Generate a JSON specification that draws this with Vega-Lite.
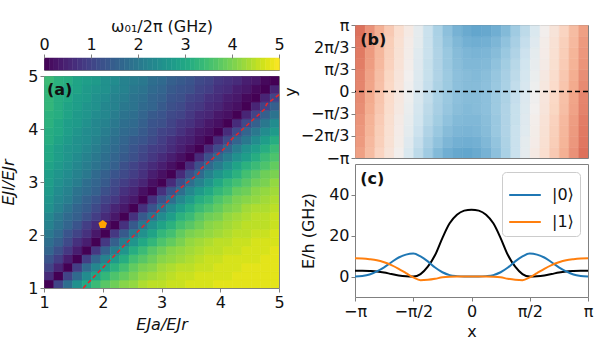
{
"$schema":"https://vega.github.io/schema/vega-lite/v6.json",
"background":"white",
"padding":{"left":0,"top":16,"right":2,"bottom":2},
"config":{
"font":"DejaVu Sans",
"view":{"stroke":"#808080","strokeWidth":1},
"axis":{"labelFontSize":16,"labelColor":"#111","titleFontSize":16,"titleFontWeight":"normal","titleColor":"#111","tickColor":"#808080","tickSize":4,"domain":false,"grid":false,"labelPadding":2,"labelFlush":false},
"legend":{"labelFontSize":16,"titleFontSize":16,"titleFontWeight":"normal","labelColor":"#111","titleColor":"#111"}
},
"datasets":{
"cbar":[{"c":0.05},{"c":0.15},{"c":0.25},{"c":0.35},{"c":0.45},{"c":0.55},{"c":0.65},{"c":0.75},{"c":0.85},{"c":0.95},{"c":1.05},{"c":1.15},{"c":1.25},{"c":1.35},{"c":1.45},{"c":1.55},{"c":1.65},{"c":1.75},{"c":1.85},{"c":1.95},{"c":2.05},{"c":2.15},{"c":2.25},{"c":2.35},{"c":2.45},{"c":2.55},{"c":2.65},{"c":2.75},{"c":2.85},{"c":2.95},{"c":3.05},{"c":3.15},{"c":3.25},{"c":3.35},{"c":3.45},{"c":3.55},{"c":3.65},{"c":3.75},{"c":3.85},{"c":3.95},{"c":4.05},{"c":4.15},{"c":4.25},{"c":4.35},{"c":4.45},{"c":4.55},{"c":4.65},{"c":4.75},{"c":4.85},{"c":4.95}],
"omega":[
{"a":1.08,"l":1.08,"w":0},{"a":1.24,"l":1.08,"w":1},{"a":1.4,"l":1.08,"w":1.8},{"a":1.56,"l":1.08,"w":2.5},{"a":1.72,"l":1.08,"w":3},{"a":1.88,"l":1.08,"w":3.4},{"a":2.04,"l":1.08,"w":3.7},{"a":2.2,"l":1.08,"w":3.9},{"a":2.36,"l":1.08,"w":4.1},{"a":2.52,"l":1.08,"w":4.2},{"a":2.68,"l":1.08,"w":4.4},{"a":2.84,"l":1.08,"w":4.5},{"a":3,"l":1.08,"w":4.5},{"a":3.16,"l":1.08,"w":4.6},{"a":3.32,"l":1.08,"w":4.6},{"a":3.48,"l":1.08,"w":4.7},{"a":3.64,"l":1.08,"w":4.7},{"a":3.8,"l":1.08,"w":4.7},{"a":3.96,"l":1.08,"w":4.8},{"a":4.12,"l":1.08,"w":4.8},{"a":4.28,"l":1.08,"w":4.8},{"a":4.44,"l":1.08,"w":4.8},{"a":4.6,"l":1.08,"w":4.8},{"a":4.76,"l":1.08,"w":4.8},{"a":4.92,"l":1.08,"w":4.8},
{"a":1.08,"l":1.24,"w":0.6},{"a":1.24,"l":1.24,"w":0},{"a":1.4,"l":1.24,"w":1},{"a":1.56,"l":1.24,"w":1.7},{"a":1.72,"l":1.24,"w":2.4},{"a":1.88,"l":1.24,"w":2.9},{"a":2.04,"l":1.24,"w":3.3},{"a":2.2,"l":1.24,"w":3.6},{"a":2.36,"l":1.24,"w":3.8},{"a":2.52,"l":1.24,"w":4},{"a":2.68,"l":1.24,"w":4.2},{"a":2.84,"l":1.24,"w":4.3},{"a":3,"l":1.24,"w":4.4},{"a":3.16,"l":1.24,"w":4.5},{"a":3.32,"l":1.24,"w":4.6},{"a":3.48,"l":1.24,"w":4.6},{"a":3.64,"l":1.24,"w":4.7},{"a":3.8,"l":1.24,"w":4.7},{"a":3.96,"l":1.24,"w":4.7},{"a":4.12,"l":1.24,"w":4.7},{"a":4.28,"l":1.24,"w":4.8},{"a":4.44,"l":1.24,"w":4.8},{"a":4.6,"l":1.24,"w":4.8},{"a":4.76,"l":1.24,"w":4.8},{"a":4.92,"l":1.24,"w":4.8},
{"a":1.08,"l":1.4,"w":1},{"a":1.24,"l":1.4,"w":0.5},{"a":1.4,"l":1.4,"w":0},{"a":1.56,"l":1.4,"w":0.9},{"a":1.72,"l":1.4,"w":1.7},{"a":1.88,"l":1.4,"w":2.3},{"a":2.04,"l":1.4,"w":2.8},{"a":2.2,"l":1.4,"w":3.2},{"a":2.36,"l":1.4,"w":3.5},{"a":2.52,"l":1.4,"w":3.8},{"a":2.68,"l":1.4,"w":4},{"a":2.84,"l":1.4,"w":4.1},{"a":3,"l":1.4,"w":4.3},{"a":3.16,"l":1.4,"w":4.4},{"a":3.32,"l":1.4,"w":4.5},{"a":3.48,"l":1.4,"w":4.5},{"a":3.64,"l":1.4,"w":4.6},{"a":3.8,"l":1.4,"w":4.6},{"a":3.96,"l":1.4,"w":4.7},{"a":4.12,"l":1.4,"w":4.7},{"a":4.28,"l":1.4,"w":4.7},{"a":4.44,"l":1.4,"w":4.8},{"a":4.6,"l":1.4,"w":4.8},{"a":4.76,"l":1.4,"w":4.8},{"a":4.92,"l":1.4,"w":4.8},
{"a":1.08,"l":1.56,"w":1.3},{"a":1.24,"l":1.56,"w":0.9},{"a":1.4,"l":1.56,"w":0.4},{"a":1.56,"l":1.56,"w":0},{"a":1.72,"l":1.56,"w":0.9},{"a":1.88,"l":1.56,"w":1.6},{"a":2.04,"l":1.56,"w":2.2},{"a":2.2,"l":1.56,"w":2.7},{"a":2.36,"l":1.56,"w":3.1},{"a":2.52,"l":1.56,"w":3.5},{"a":2.68,"l":1.56,"w":3.7},{"a":2.84,"l":1.56,"w":3.9},{"a":3,"l":1.56,"w":4.1},{"a":3.16,"l":1.56,"w":4.2},{"a":3.32,"l":1.56,"w":4.3},{"a":3.48,"l":1.56,"w":4.4},{"a":3.64,"l":1.56,"w":4.5},{"a":3.8,"l":1.56,"w":4.6},{"a":3.96,"l":1.56,"w":4.6},{"a":4.12,"l":1.56,"w":4.7},{"a":4.28,"l":1.56,"w":4.7},{"a":4.44,"l":1.56,"w":4.7},{"a":4.6,"l":1.56,"w":4.7},{"a":4.76,"l":1.56,"w":4.8},{"a":4.92,"l":1.56,"w":4.8},
{"a":1.08,"l":1.72,"w":1.6},{"a":1.24,"l":1.72,"w":1.2},{"a":1.4,"l":1.72,"w":0.8},{"a":1.56,"l":1.72,"w":0.4},{"a":1.72,"l":1.72,"w":0},{"a":1.88,"l":1.72,"w":0.8},{"a":2.04,"l":1.72,"w":1.5},{"a":2.2,"l":1.72,"w":2.1},{"a":2.36,"l":1.72,"w":2.6},{"a":2.52,"l":1.72,"w":3.1},{"a":2.68,"l":1.72,"w":3.4},{"a":2.84,"l":1.72,"w":3.7},{"a":3,"l":1.72,"w":3.9},{"a":3.16,"l":1.72,"w":4.1},{"a":3.32,"l":1.72,"w":4.2},{"a":3.48,"l":1.72,"w":4.3},{"a":3.64,"l":1.72,"w":4.4},{"a":3.8,"l":1.72,"w":4.5},{"a":3.96,"l":1.72,"w":4.5},{"a":4.12,"l":1.72,"w":4.6},{"a":4.28,"l":1.72,"w":4.6},{"a":4.44,"l":1.72,"w":4.7},{"a":4.6,"l":1.72,"w":4.7},{"a":4.76,"l":1.72,"w":4.7},{"a":4.92,"l":1.72,"w":4.8},
{"a":1.08,"l":1.88,"w":1.8},{"a":1.24,"l":1.88,"w":1.5},{"a":1.4,"l":1.88,"w":1.1},{"a":1.56,"l":1.88,"w":0.7},{"a":1.72,"l":1.88,"w":0.4},{"a":1.88,"l":1.88,"w":0},{"a":2.04,"l":1.88,"w":0.8},{"a":2.2,"l":1.88,"w":1.5},{"a":2.36,"l":1.88,"w":2.1},{"a":2.52,"l":1.88,"w":2.6},{"a":2.68,"l":1.88,"w":3},{"a":2.84,"l":1.88,"w":3.3},{"a":3,"l":1.88,"w":3.6},{"a":3.16,"l":1.88,"w":3.8},{"a":3.32,"l":1.88,"w":4},{"a":3.48,"l":1.88,"w":4.2},{"a":3.64,"l":1.88,"w":4.3},{"a":3.8,"l":1.88,"w":4.4},{"a":3.96,"l":1.88,"w":4.5},{"a":4.12,"l":1.88,"w":4.5},{"a":4.28,"l":1.88,"w":4.6},{"a":4.44,"l":1.88,"w":4.6},{"a":4.6,"l":1.88,"w":4.7},{"a":4.76,"l":1.88,"w":4.7},{"a":4.92,"l":1.88,"w":4.7},
{"a":1.08,"l":2.04,"w":2},{"a":1.24,"l":2.04,"w":1.7},{"a":1.4,"l":2.04,"w":1.3},{"a":1.56,"l":2.04,"w":1},{"a":1.72,"l":2.04,"w":0.7},{"a":1.88,"l":2.04,"w":0.3},{"a":2.04,"l":2.04,"w":0},{"a":2.2,"l":2.04,"w":0.8},{"a":2.36,"l":2.04,"w":1.4},{"a":2.52,"l":2.04,"w":2},{"a":2.68,"l":2.04,"w":2.5},{"a":2.84,"l":2.04,"w":2.9},{"a":3,"l":2.04,"w":3.3},{"a":3.16,"l":2.04,"w":3.5},{"a":3.32,"l":2.04,"w":3.8},{"a":3.48,"l":2.04,"w":4},{"a":3.64,"l":2.04,"w":4.1},{"a":3.8,"l":2.04,"w":4.2},{"a":3.96,"l":2.04,"w":4.3},{"a":4.12,"l":2.04,"w":4.4},{"a":4.28,"l":2.04,"w":4.5},{"a":4.44,"l":2.04,"w":4.5},{"a":4.6,"l":2.04,"w":4.6},{"a":4.76,"l":2.04,"w":4.6},{"a":4.92,"l":2.04,"w":4.7},
{"a":1.08,"l":2.2,"w":2.2},{"a":1.24,"l":2.2,"w":1.9},{"a":1.4,"l":2.2,"w":1.6},{"a":1.56,"l":2.2,"w":1.3},{"a":1.72,"l":2.2,"w":0.9},{"a":1.88,"l":2.2,"w":0.6},{"a":2.04,"l":2.2,"w":0.3},{"a":2.2,"l":2.2,"w":0},{"a":2.36,"l":2.2,"w":0.7},{"a":2.52,"l":2.2,"w":1.4},{"a":2.68,"l":2.2,"w":2},{"a":2.84,"l":2.2,"w":2.5},{"a":3,"l":2.2,"w":2.9},{"a":3.16,"l":2.2,"w":3.2},{"a":3.32,"l":2.2,"w":3.5},{"a":3.48,"l":2.2,"w":3.7},{"a":3.64,"l":2.2,"w":3.9},{"a":3.8,"l":2.2,"w":4.1},{"a":3.96,"l":2.2,"w":4.2},{"a":4.12,"l":2.2,"w":4.3},{"a":4.28,"l":2.2,"w":4.4},{"a":4.44,"l":2.2,"w":4.5},{"a":4.6,"l":2.2,"w":4.5},{"a":4.76,"l":2.2,"w":4.5},{"a":4.92,"l":2.2,"w":4.6},
{"a":1.08,"l":2.36,"w":2.3},{"a":1.24,"l":2.36,"w":2},{"a":1.4,"l":2.36,"w":1.7},{"a":1.56,"l":2.36,"w":1.5},{"a":1.72,"l":2.36,"w":1.2},{"a":1.88,"l":2.36,"w":0.9},{"a":2.04,"l":2.36,"w":0.6},{"a":2.2,"l":2.36,"w":0.3},{"a":2.36,"l":2.36,"w":0},{"a":2.52,"l":2.36,"w":0.7},{"a":2.68,"l":2.36,"w":1.4},{"a":2.84,"l":2.36,"w":1.9},{"a":3,"l":2.36,"w":2.4},{"a":3.16,"l":2.36,"w":2.8},{"a":3.32,"l":2.36,"w":3.2},{"a":3.48,"l":2.36,"w":3.4},{"a":3.64,"l":2.36,"w":3.7},{"a":3.8,"l":2.36,"w":3.9},{"a":3.96,"l":2.36,"w":4},{"a":4.12,"l":2.36,"w":4.2},{"a":4.28,"l":2.36,"w":4.3},{"a":4.44,"l":2.36,"w":4.4},{"a":4.6,"l":2.36,"w":4.5},{"a":4.76,"l":2.36,"w":4.5},{"a":4.92,"l":2.36,"w":4.6},
{"a":1.08,"l":2.52,"w":2.5},{"a":1.24,"l":2.52,"w":2.2},{"a":1.4,"l":2.52,"w":1.9},{"a":1.56,"l":2.52,"w":1.6},{"a":1.72,"l":2.52,"w":1.4},{"a":1.88,"l":2.52,"w":1.1},{"a":2.04,"l":2.52,"w":0.8},{"a":2.2,"l":2.52,"w":0.5},{"a":2.36,"l":2.52,"w":0.3},{"a":2.52,"l":2.52,"w":0},{"a":2.68,"l":2.52,"w":0.7},{"a":2.84,"l":2.52,"w":1.3},{"a":3,"l":2.52,"w":1.9},{"a":3.16,"l":2.52,"w":2.4},{"a":3.32,"l":2.52,"w":2.8},{"a":3.48,"l":2.52,"w":3.1},{"a":3.64,"l":2.52,"w":3.4},{"a":3.8,"l":2.52,"w":3.6},{"a":3.96,"l":2.52,"w":3.8},{"a":4.12,"l":2.52,"w":4},{"a":4.28,"l":2.52,"w":4.1},{"a":4.44,"l":2.52,"w":4.3},{"a":4.6,"l":2.52,"w":4.4},{"a":4.76,"l":2.52,"w":4.4},{"a":4.92,"l":2.52,"w":4.5},
{"a":1.08,"l":2.68,"w":2.6},{"a":1.24,"l":2.68,"w":2.3},{"a":1.4,"l":2.68,"w":2.1},{"a":1.56,"l":2.68,"w":1.8},{"a":1.72,"l":2.68,"w":1.5},{"a":1.88,"l":2.68,"w":1.3},{"a":2.04,"l":2.68,"w":1},{"a":2.2,"l":2.68,"w":0.8},{"a":2.36,"l":2.68,"w":0.5},{"a":2.52,"l":2.68,"w":0.3},{"a":2.68,"l":2.68,"w":0},{"a":2.84,"l":2.68,"w":0.7},{"a":3,"l":2.68,"w":1.3},{"a":3.16,"l":2.68,"w":1.8},{"a":3.32,"l":2.68,"w":2.3},{"a":3.48,"l":2.68,"w":2.7},{"a":3.64,"l":2.68,"w":3.1},{"a":3.8,"l":2.68,"w":3.3},{"a":3.96,"l":2.68,"w":3.6},{"a":4.12,"l":2.68,"w":3.8},{"a":4.28,"l":2.68,"w":4},{"a":4.44,"l":2.68,"w":4.1},{"a":4.6,"l":2.68,"w":4.2},{"a":4.76,"l":2.68,"w":4.3},{"a":4.92,"l":2.68,"w":4.4},
{"a":1.08,"l":2.84,"w":2.7},{"a":1.24,"l":2.84,"w":2.4},{"a":1.4,"l":2.84,"w":2.2},{"a":1.56,"l":2.84,"w":1.9},{"a":1.72,"l":2.84,"w":1.7},{"a":1.88,"l":2.84,"w":1.5},{"a":2.04,"l":2.84,"w":1.2},{"a":2.2,"l":2.84,"w":1},{"a":2.36,"l":2.84,"w":0.7},{"a":2.52,"l":2.84,"w":0.5},{"a":2.68,"l":2.84,"w":0.2},{"a":2.84,"l":2.84,"w":0},{"a":3,"l":2.84,"w":0.7},{"a":3.16,"l":2.84,"w":1.3},{"a":3.32,"l":2.84,"w":1.8},{"a":3.48,"l":2.84,"w":2.3},{"a":3.64,"l":2.84,"w":2.7},{"a":3.8,"l":2.84,"w":3},{"a":3.96,"l":2.84,"w":3.3},{"a":4.12,"l":2.84,"w":3.5},{"a":4.28,"l":2.84,"w":3.8},{"a":4.44,"l":2.84,"w":3.9},{"a":4.6,"l":2.84,"w":4.1},{"a":4.76,"l":2.84,"w":4.2},{"a":4.92,"l":2.84,"w":4.3},
{"a":1.08,"l":3,"w":2.8},{"a":1.24,"l":3,"w":2.5},{"a":1.4,"l":3,"w":2.3},{"a":1.56,"l":3,"w":2.1},{"a":1.72,"l":3,"w":1.8},{"a":1.88,"l":3,"w":1.6},{"a":2.04,"l":3,"w":1.4},{"a":2.2,"l":3,"w":1.1},{"a":2.36,"l":3,"w":0.9},{"a":2.52,"l":3,"w":0.7},{"a":2.68,"l":3,"w":0.5},{"a":2.84,"l":3,"w":0.2},{"a":3,"l":3,"w":0},{"a":3.16,"l":3,"w":0.6},{"a":3.32,"l":3,"w":1.2},{"a":3.48,"l":3,"w":1.8},{"a":3.64,"l":3,"w":2.2},{"a":3.8,"l":3,"w":2.6},{"a":3.96,"l":3,"w":3},{"a":4.12,"l":3,"w":3.3},{"a":4.28,"l":3,"w":3.5},{"a":4.44,"l":3,"w":3.7},{"a":4.6,"l":3,"w":3.9},{"a":4.76,"l":3,"w":4},{"a":4.92,"l":3,"w":4.2},
{"a":1.08,"l":3.16,"w":2.8},{"a":1.24,"l":3.16,"w":2.6},{"a":1.4,"l":3.16,"w":2.4},{"a":1.56,"l":3.16,"w":2.2},{"a":1.72,"l":3.16,"w":2},{"a":1.88,"l":3.16,"w":1.7},{"a":2.04,"l":3.16,"w":1.5},{"a":2.2,"l":3.16,"w":1.3},{"a":2.36,"l":3.16,"w":1.1},{"a":2.52,"l":3.16,"w":0.9},{"a":2.68,"l":3.16,"w":0.7},{"a":2.84,"l":3.16,"w":0.4},{"a":3,"l":3.16,"w":0.2},{"a":3.16,"l":3.16,"w":0},{"a":3.32,"l":3.16,"w":0.6},{"a":3.48,"l":3.16,"w":1.2},{"a":3.64,"l":3.16,"w":1.7},{"a":3.8,"l":3.16,"w":2.2},{"a":3.96,"l":3.16,"w":2.6},{"a":4.12,"l":3.16,"w":2.9},{"a":4.28,"l":3.16,"w":3.2},{"a":4.44,"l":3.16,"w":3.5},{"a":4.6,"l":3.16,"w":3.7},{"a":4.76,"l":3.16,"w":3.9},{"a":4.92,"l":3.16,"w":4},
{"a":1.08,"l":3.32,"w":2.9},{"a":1.24,"l":3.32,"w":2.7},{"a":1.4,"l":3.32,"w":2.5},{"a":1.56,"l":3.32,"w":2.3},{"a":1.72,"l":3.32,"w":2.1},{"a":1.88,"l":3.32,"w":1.9},{"a":2.04,"l":3.32,"w":1.7},{"a":2.2,"l":3.32,"w":1.5},{"a":2.36,"l":3.32,"w":1.2},{"a":2.52,"l":3.32,"w":1},{"a":2.68,"l":3.32,"w":0.8},{"a":2.84,"l":3.32,"w":0.6},{"a":3,"l":3.32,"w":0.4},{"a":3.16,"l":3.32,"w":0.2},{"a":3.32,"l":3.32,"w":0},{"a":3.48,"l":3.32,"w":0.6},{"a":3.64,"l":3.32,"w":1.2},{"a":3.8,"l":3.32,"w":1.7},{"a":3.96,"l":3.32,"w":2.1},{"a":4.12,"l":3.32,"w":2.5},{"a":4.28,"l":3.32,"w":2.9},{"a":4.44,"l":3.32,"w":3.2},{"a":4.6,"l":3.32,"w":3.4},{"a":4.76,"l":3.32,"w":3.6},{"a":4.92,"l":3.32,"w":3.8},
{"a":1.08,"l":3.48,"w":3},{"a":1.24,"l":3.48,"w":2.8},{"a":1.4,"l":3.48,"w":2.6},{"a":1.56,"l":3.48,"w":2.4},{"a":1.72,"l":3.48,"w":2.2},{"a":1.88,"l":3.48,"w":2},{"a":2.04,"l":3.48,"w":1.8},{"a":2.2,"l":3.48,"w":1.6},{"a":2.36,"l":3.48,"w":1.4},{"a":2.52,"l":3.48,"w":1.2},{"a":2.68,"l":3.48,"w":1},{"a":2.84,"l":3.48,"w":0.8},{"a":3,"l":3.48,"w":0.6},{"a":3.16,"l":3.48,"w":0.4},{"a":3.32,"l":3.48,"w":0.2},{"a":3.48,"l":3.48,"w":0},{"a":3.64,"l":3.48,"w":0.6},{"a":3.8,"l":3.48,"w":1.2},{"a":3.96,"l":3.48,"w":1.7},{"a":4.12,"l":3.48,"w":2.1},{"a":4.28,"l":3.48,"w":2.5},{"a":4.44,"l":3.48,"w":2.8},{"a":4.6,"l":3.48,"w":3.1},{"a":4.76,"l":3.48,"w":3.4},{"a":4.92,"l":3.48,"w":3.6},
{"a":1.08,"l":3.64,"w":3},{"a":1.24,"l":3.64,"w":2.8},{"a":1.4,"l":3.64,"w":2.6},{"a":1.56,"l":3.64,"w":2.5},{"a":1.72,"l":3.64,"w":2.3},{"a":1.88,"l":3.64,"w":2.1},{"a":2.04,"l":3.64,"w":1.9},{"a":2.2,"l":3.64,"w":1.7},{"a":2.36,"l":3.64,"w":1.5},{"a":2.52,"l":3.64,"w":1.3},{"a":2.68,"l":3.64,"w":1.1},{"a":2.84,"l":3.64,"w":0.9},{"a":3,"l":3.64,"w":0.8},{"a":3.16,"l":3.64,"w":0.6},{"a":3.32,"l":3.64,"w":0.4},{"a":3.48,"l":3.64,"w":0.2},{"a":3.64,"l":3.64,"w":0},{"a":3.8,"l":3.64,"w":0.6},{"a":3.96,"l":3.64,"w":1.1},{"a":4.12,"l":3.64,"w":1.6},{"a":4.28,"l":3.64,"w":2.1},{"a":4.44,"l":3.64,"w":2.5},{"a":4.6,"l":3.64,"w":2.8},{"a":4.76,"l":3.64,"w":3.1},{"a":4.92,"l":3.64,"w":3.4},
{"a":1.08,"l":3.8,"w":3.1},{"a":1.24,"l":3.8,"w":2.9},{"a":1.4,"l":3.8,"w":2.7},{"a":1.56,"l":3.8,"w":2.5},{"a":1.72,"l":3.8,"w":2.4},{"a":1.88,"l":3.8,"w":2.2},{"a":2.04,"l":3.8,"w":2},{"a":2.2,"l":3.8,"w":1.8},{"a":2.36,"l":3.8,"w":1.6},{"a":2.52,"l":3.8,"w":1.4},{"a":2.68,"l":3.8,"w":1.3},{"a":2.84,"l":3.8,"w":1.1},{"a":3,"l":3.8,"w":0.9},{"a":3.16,"l":3.8,"w":0.7},{"a":3.32,"l":3.8,"w":0.5},{"a":3.48,"l":3.8,"w":0.4},{"a":3.64,"l":3.8,"w":0.2},{"a":3.8,"l":3.8,"w":0},{"a":3.96,"l":3.8,"w":0.6},{"a":4.12,"l":3.8,"w":1.1},{"a":4.28,"l":3.8,"w":1.6},{"a":4.44,"l":3.8,"w":2},{"a":4.6,"l":3.8,"w":2.4},{"a":4.76,"l":3.8,"w":2.8},{"a":4.92,"l":3.8,"w":3.1},
{"a":1.08,"l":3.96,"w":3.1},{"a":1.24,"l":3.96,"w":3},{"a":1.4,"l":3.96,"w":2.8},{"a":1.56,"l":3.96,"w":2.6},{"a":1.72,"l":3.96,"w":2.4},{"a":1.88,"l":3.96,"w":2.3},{"a":2.04,"l":3.96,"w":2.1},{"a":2.2,"l":3.96,"w":1.9},{"a":2.36,"l":3.96,"w":1.7},{"a":2.52,"l":3.96,"w":1.6},{"a":2.68,"l":3.96,"w":1.4},{"a":2.84,"l":3.96,"w":1.2},{"a":3,"l":3.96,"w":1},{"a":3.16,"l":3.96,"w":0.9},{"a":3.32,"l":3.96,"w":0.7},{"a":3.48,"l":3.96,"w":0.5},{"a":3.64,"l":3.96,"w":0.3},{"a":3.8,"l":3.96,"w":0.2},{"a":3.96,"l":3.96,"w":0},{"a":4.12,"l":3.96,"w":0.6},{"a":4.28,"l":3.96,"w":1.1},{"a":4.44,"l":3.96,"w":1.6},{"a":4.6,"l":3.96,"w":2},{"a":4.76,"l":3.96,"w":2.4},{"a":4.92,"l":3.96,"w":2.7},
{"a":1.08,"l":4.12,"w":3.2},{"a":1.24,"l":4.12,"w":3},{"a":1.4,"l":4.12,"w":2.8},{"a":1.56,"l":4.12,"w":2.7},{"a":1.72,"l":4.12,"w":2.5},{"a":1.88,"l":4.12,"w":2.3},{"a":2.04,"l":4.12,"w":2.2},{"a":2.2,"l":4.12,"w":2},{"a":2.36,"l":4.12,"w":1.8},{"a":2.52,"l":4.12,"w":1.7},{"a":2.68,"l":4.12,"w":1.5},{"a":2.84,"l":4.12,"w":1.3},{"a":3,"l":4.12,"w":1.2},{"a":3.16,"l":4.12,"w":1},{"a":3.32,"l":4.12,"w":0.8},{"a":3.48,"l":4.12,"w":0.7},{"a":3.64,"l":4.12,"w":0.5},{"a":3.8,"l":4.12,"w":0.3},{"a":3.96,"l":4.12,"w":0.2},{"a":4.12,"l":4.12,"w":0},{"a":4.28,"l":4.12,"w":0.6},{"a":4.44,"l":4.12,"w":1.1},{"a":4.6,"l":4.12,"w":1.5},{"a":4.76,"l":4.12,"w":2},{"a":4.92,"l":4.12,"w":2.4},
{"a":1.08,"l":4.28,"w":3.2},{"a":1.24,"l":4.28,"w":3.1},{"a":1.4,"l":4.28,"w":2.9},{"a":1.56,"l":4.28,"w":2.7},{"a":1.72,"l":4.28,"w":2.6},{"a":1.88,"l":4.28,"w":2.4},{"a":2.04,"l":4.28,"w":2.3},{"a":2.2,"l":4.28,"w":2.1},{"a":2.36,"l":4.28,"w":1.9},{"a":2.52,"l":4.28,"w":1.8},{"a":2.68,"l":4.28,"w":1.6},{"a":2.84,"l":4.28,"w":1.4},{"a":3,"l":4.28,"w":1.3},{"a":3.16,"l":4.28,"w":1.1},{"a":3.32,"l":4.28,"w":1},{"a":3.48,"l":4.28,"w":0.8},{"a":3.64,"l":4.28,"w":0.6},{"a":3.8,"l":4.28,"w":0.5},{"a":3.96,"l":4.28,"w":0.3},{"a":4.12,"l":4.28,"w":0.2},{"a":4.28,"l":4.28,"w":0},{"a":4.44,"l":4.28,"w":0.5},{"a":4.6,"l":4.28,"w":1},{"a":4.76,"l":4.28,"w":1.5},{"a":4.92,"l":4.28,"w":1.9},
{"a":1.08,"l":4.44,"w":3.3},{"a":1.24,"l":4.44,"w":3.1},{"a":1.4,"l":4.44,"w":2.9},{"a":1.56,"l":4.44,"w":2.8},{"a":1.72,"l":4.44,"w":2.6},{"a":1.88,"l":4.44,"w":2.5},{"a":2.04,"l":4.44,"w":2.3},{"a":2.2,"l":4.44,"w":2.2},{"a":2.36,"l":4.44,"w":2},{"a":2.52,"l":4.44,"w":1.9},{"a":2.68,"l":4.44,"w":1.7},{"a":2.84,"l":4.44,"w":1.6},{"a":3,"l":4.44,"w":1.4},{"a":3.16,"l":4.44,"w":1.2},{"a":3.32,"l":4.44,"w":1.1},{"a":3.48,"l":4.44,"w":0.9},{"a":3.64,"l":4.44,"w":0.8},{"a":3.8,"l":4.44,"w":0.6},{"a":3.96,"l":4.44,"w":0.5},{"a":4.12,"l":4.44,"w":0.3},{"a":4.28,"l":4.44,"w":0.2},{"a":4.44,"l":4.44,"w":0},{"a":4.6,"l":4.44,"w":0.5},{"a":4.76,"l":4.44,"w":1},{"a":4.92,"l":4.44,"w":1.5},
{"a":1.08,"l":4.6,"w":3.3},{"a":1.24,"l":4.6,"w":3.1},{"a":1.4,"l":4.6,"w":3},{"a":1.56,"l":4.6,"w":2.8},{"a":1.72,"l":4.6,"w":2.7},{"a":1.88,"l":4.6,"w":2.5},{"a":2.04,"l":4.6,"w":2.4},{"a":2.2,"l":4.6,"w":2.2},{"a":2.36,"l":4.6,"w":2.1},{"a":2.52,"l":4.6,"w":1.9},{"a":2.68,"l":4.6,"w":1.8},{"a":2.84,"l":4.6,"w":1.6},{"a":3,"l":4.6,"w":1.5},{"a":3.16,"l":4.6,"w":1.3},{"a":3.32,"l":4.6,"w":1.2},{"a":3.48,"l":4.6,"w":1},{"a":3.64,"l":4.6,"w":0.9},{"a":3.8,"l":4.6,"w":0.7},{"a":3.96,"l":4.6,"w":0.6},{"a":4.12,"l":4.6,"w":0.4},{"a":4.28,"l":4.6,"w":0.3},{"a":4.44,"l":4.6,"w":0.1},{"a":4.6,"l":4.6,"w":0},{"a":4.76,"l":4.6,"w":0.5},{"a":4.92,"l":4.6,"w":1},
{"a":1.08,"l":4.76,"w":3.3},{"a":1.24,"l":4.76,"w":3.2},{"a":1.4,"l":4.76,"w":3},{"a":1.56,"l":4.76,"w":2.9},{"a":1.72,"l":4.76,"w":2.7},{"a":1.88,"l":4.76,"w":2.6},{"a":2.04,"l":4.76,"w":2.5},{"a":2.2,"l":4.76,"w":2.3},{"a":2.36,"l":4.76,"w":2.2},{"a":2.52,"l":4.76,"w":2},{"a":2.68,"l":4.76,"w":1.9},{"a":2.84,"l":4.76,"w":1.7},{"a":3,"l":4.76,"w":1.6},{"a":3.16,"l":4.76,"w":1.4},{"a":3.32,"l":4.76,"w":1.3},{"a":3.48,"l":4.76,"w":1.2},{"a":3.64,"l":4.76,"w":1},{"a":3.8,"l":4.76,"w":0.9},{"a":3.96,"l":4.76,"w":0.7},{"a":4.12,"l":4.76,"w":0.6},{"a":4.28,"l":4.76,"w":0.4},{"a":4.44,"l":4.76,"w":0.3},{"a":4.6,"l":4.76,"w":0.1},{"a":4.76,"l":4.76,"w":0},{"a":4.92,"l":4.76,"w":0.5},
{"a":1.08,"l":4.92,"w":3.4},{"a":1.24,"l":4.92,"w":3.2},{"a":1.4,"l":4.92,"w":3.1},{"a":1.56,"l":4.92,"w":2.9},{"a":1.72,"l":4.92,"w":2.8},{"a":1.88,"l":4.92,"w":2.7},{"a":2.04,"l":4.92,"w":2.5},{"a":2.2,"l":4.92,"w":2.4},{"a":2.36,"l":4.92,"w":2.2},{"a":2.52,"l":4.92,"w":2.1},{"a":2.68,"l":4.92,"w":2},{"a":2.84,"l":4.92,"w":1.8},{"a":3,"l":4.92,"w":1.7},{"a":3.16,"l":4.92,"w":1.5},{"a":3.32,"l":4.92,"w":1.4},{"a":3.48,"l":4.92,"w":1.3},{"a":3.64,"l":4.92,"w":1.1},{"a":3.8,"l":4.92,"w":1},{"a":3.96,"l":4.92,"w":0.8},{"a":4.12,"l":4.92,"w":0.7},{"a":4.28,"l":4.92,"w":0.6},{"a":4.44,"l":4.92,"w":0.4},{"a":4.6,"l":4.92,"w":0.3},{"a":4.76,"l":4.92,"w":0.1},{"a":4.92,"l":4.92,"w":0}
],
"phi":[
{"x":-3.011,"y":-2.88,"v":-0.45},{"x":-2.749,"y":-2.88,"v":-0.34},{"x":-2.487,"y":-2.88,"v":-0.23},{"x":-2.225,"y":-2.88,"v":-0.12},{"x":-1.963,"y":-2.88,"v":-0.01},{"x":-1.702,"y":-2.88,"v":0.15},{"x":-1.44,"y":-2.88,"v":0.28},{"x":-1.178,"y":-2.88,"v":0.39},{"x":-0.916,"y":-2.88,"v":0.48},{"x":-0.654,"y":-2.88,"v":0.54},{"x":-0.393,"y":-2.88,"v":0.57},{"x":-0.131,"y":-2.88,"v":0.58},{"x":0.131,"y":-2.88,"v":0.56},{"x":0.393,"y":-2.88,"v":0.52},{"x":0.654,"y":-2.88,"v":0.45},{"x":0.916,"y":-2.88,"v":0.35},{"x":1.178,"y":-2.88,"v":0.23},{"x":1.44,"y":-2.88,"v":0.08},{"x":1.702,"y":-2.88,"v":-0.06},{"x":1.963,"y":-2.88,"v":-0.17},{"x":2.225,"y":-2.88,"v":-0.28},{"x":2.487,"y":-2.88,"v":-0.39},{"x":2.749,"y":-2.88,"v":-0.5},{"x":3.011,"y":-2.88,"v":-0.61},
{"x":-3.011,"y":-2.356,"v":-0.47},{"x":-2.749,"y":-2.356,"v":-0.35},{"x":-2.487,"y":-2.356,"v":-0.25},{"x":-2.225,"y":-2.356,"v":-0.14},{"x":-1.963,"y":-2.356,"v":-0.03},{"x":-1.702,"y":-2.356,"v":0.12},{"x":-1.44,"y":-2.356,"v":0.25},{"x":-1.178,"y":-2.356,"v":0.36},{"x":-0.916,"y":-2.356,"v":0.44},{"x":-0.654,"y":-2.356,"v":0.5},{"x":-0.393,"y":-2.356,"v":0.53},{"x":-0.131,"y":-2.356,"v":0.54},{"x":0.131,"y":-2.356,"v":0.53},{"x":0.393,"y":-2.356,"v":0.49},{"x":0.654,"y":-2.356,"v":0.43},{"x":0.916,"y":-2.356,"v":0.34},{"x":1.178,"y":-2.356,"v":0.23},{"x":1.44,"y":-2.356,"v":0.09},{"x":1.702,"y":-2.356,"v":-0.04},{"x":1.963,"y":-2.356,"v":-0.15},{"x":2.225,"y":-2.356,"v":-0.26},{"x":2.487,"y":-2.356,"v":-0.37},{"x":2.749,"y":-2.356,"v":-0.48},{"x":3.011,"y":-2.356,"v":-0.59},
{"x":-3.011,"y":-1.833,"v":-0.48},{"x":-2.749,"y":-1.833,"v":-0.37},{"x":-2.487,"y":-1.833,"v":-0.26},{"x":-2.225,"y":-1.833,"v":-0.15},{"x":-1.963,"y":-1.833,"v":-0.04},{"x":-1.702,"y":-1.833,"v":0.09},{"x":-1.44,"y":-1.833,"v":0.22},{"x":-1.178,"y":-1.833,"v":0.33},{"x":-0.916,"y":-1.833,"v":0.41},{"x":-0.654,"y":-1.833,"v":0.47},{"x":-0.393,"y":-1.833,"v":0.5},{"x":-0.131,"y":-1.833,"v":0.51},{"x":0.131,"y":-1.833,"v":0.5},{"x":0.393,"y":-1.833,"v":0.47},{"x":0.654,"y":-1.833,"v":0.41},{"x":0.916,"y":-1.833,"v":0.33},{"x":1.178,"y":-1.833,"v":0.23},{"x":1.44,"y":-1.833,"v":0.11},{"x":1.702,"y":-1.833,"v":-0.03},{"x":1.963,"y":-1.833,"v":-0.14},{"x":2.225,"y":-1.833,"v":-0.25},{"x":2.487,"y":-1.833,"v":-0.36},{"x":2.749,"y":-1.833,"v":-0.47},{"x":3.011,"y":-1.833,"v":-0.58},
{"x":-3.011,"y":-1.309,"v":-0.49},{"x":-2.749,"y":-1.309,"v":-0.38},{"x":-2.487,"y":-1.309,"v":-0.27},{"x":-2.225,"y":-1.309,"v":-0.16},{"x":-1.963,"y":-1.309,"v":-0.05},{"x":-1.702,"y":-1.309,"v":0.07},{"x":-1.44,"y":-1.309,"v":0.2},{"x":-1.178,"y":-1.309,"v":0.3},{"x":-0.916,"y":-1.309,"v":0.38},{"x":-0.654,"y":-1.309,"v":0.44},{"x":-0.393,"y":-1.309,"v":0.48},{"x":-0.131,"y":-1.309,"v":0.49},{"x":0.131,"y":-1.309,"v":0.49},{"x":0.393,"y":-1.309,"v":0.46},{"x":0.654,"y":-1.309,"v":0.41},{"x":0.916,"y":-1.309,"v":0.33},{"x":1.178,"y":-1.309,"v":0.24},{"x":1.44,"y":-1.309,"v":0.12},{"x":1.702,"y":-1.309,"v":-0.02},{"x":1.963,"y":-1.309,"v":-0.13},{"x":2.225,"y":-1.309,"v":-0.24},{"x":2.487,"y":-1.309,"v":-0.35},{"x":2.749,"y":-1.309,"v":-0.46},{"x":3.011,"y":-1.309,"v":-0.57},
{"x":-3.011,"y":-0.785,"v":-0.51},{"x":-2.749,"y":-0.785,"v":-0.4},{"x":-2.487,"y":-0.785,"v":-0.29},{"x":-2.225,"y":-0.785,"v":-0.18},{"x":-1.963,"y":-0.785,"v":-0.07},{"x":-1.702,"y":-0.785,"v":0.05},{"x":-1.44,"y":-0.785,"v":0.18},{"x":-1.178,"y":-0.785,"v":0.28},{"x":-0.916,"y":-0.785,"v":0.36},{"x":-0.654,"y":-0.785,"v":0.42},{"x":-0.393,"y":-0.785,"v":0.46},{"x":-0.131,"y":-0.785,"v":0.48},{"x":0.131,"y":-0.785,"v":0.47},{"x":0.393,"y":-0.785,"v":0.45},{"x":0.654,"y":-0.785,"v":0.4},{"x":0.916,"y":-0.785,"v":0.33},{"x":1.178,"y":-0.785,"v":0.24},{"x":1.44,"y":-0.785,"v":0.13},{"x":1.702,"y":-0.785,"v":0},{"x":1.963,"y":-0.785,"v":-0.11},{"x":2.225,"y":-0.785,"v":-0.22},{"x":2.487,"y":-0.785,"v":-0.33},{"x":2.749,"y":-0.785,"v":-0.44},{"x":3.011,"y":-0.785,"v":-0.55},
{"x":-3.011,"y":-0.262,"v":-0.52},{"x":-2.749,"y":-0.262,"v":-0.41},{"x":-2.487,"y":-0.262,"v":-0.3},{"x":-2.225,"y":-0.262,"v":-0.19},{"x":-1.963,"y":-0.262,"v":-0.08},{"x":-1.702,"y":-0.262,"v":0.03},{"x":-1.44,"y":-0.262,"v":0.16},{"x":-1.178,"y":-0.262,"v":0.26},{"x":-0.916,"y":-0.262,"v":0.35},{"x":-0.654,"y":-0.262,"v":0.41},{"x":-0.393,"y":-0.262,"v":0.45},{"x":-0.131,"y":-0.262,"v":0.47},{"x":0.131,"y":-0.262,"v":0.47},{"x":0.393,"y":-0.262,"v":0.45},{"x":0.654,"y":-0.262,"v":0.4},{"x":0.916,"y":-0.262,"v":0.34},{"x":1.178,"y":-0.262,"v":0.25},{"x":1.44,"y":-0.262,"v":0.14},{"x":1.702,"y":-0.262,"v":0.02},{"x":1.963,"y":-0.262,"v":-0.1},{"x":2.225,"y":-0.262,"v":-0.21},{"x":2.487,"y":-0.262,"v":-0.32},{"x":2.749,"y":-0.262,"v":-0.43},{"x":3.011,"y":-0.262,"v":-0.54},
{"x":-3.011,"y":0.262,"v":-0.54},{"x":-2.749,"y":0.262,"v":-0.43},{"x":-2.487,"y":0.262,"v":-0.32},{"x":-2.225,"y":0.262,"v":-0.21},{"x":-1.963,"y":0.262,"v":-0.1},{"x":-1.702,"y":0.262,"v":0.02},{"x":-1.44,"y":0.262,"v":0.14},{"x":-1.178,"y":0.262,"v":0.25},{"x":-0.916,"y":0.262,"v":0.34},{"x":-0.654,"y":0.262,"v":0.4},{"x":-0.393,"y":0.262,"v":0.45},{"x":-0.131,"y":0.262,"v":0.47},{"x":0.131,"y":0.262,"v":0.47},{"x":0.393,"y":0.262,"v":0.45},{"x":0.654,"y":0.262,"v":0.41},{"x":0.916,"y":0.262,"v":0.35},{"x":1.178,"y":0.262,"v":0.26},{"x":1.44,"y":0.262,"v":0.16},{"x":1.702,"y":0.262,"v":0.03},{"x":1.963,"y":0.262,"v":-0.08},{"x":2.225,"y":0.262,"v":-0.19},{"x":2.487,"y":0.262,"v":-0.3},{"x":2.749,"y":0.262,"v":-0.41},{"x":3.011,"y":0.262,"v":-0.52},
{"x":-3.011,"y":0.785,"v":-0.55},{"x":-2.749,"y":0.785,"v":-0.44},{"x":-2.487,"y":0.785,"v":-0.33},{"x":-2.225,"y":0.785,"v":-0.22},{"x":-1.963,"y":0.785,"v":-0.11},{"x":-1.702,"y":0.785,"v":0},{"x":-1.44,"y":0.785,"v":0.13},{"x":-1.178,"y":0.785,"v":0.24},{"x":-0.916,"y":0.785,"v":0.33},{"x":-0.654,"y":0.785,"v":0.4},{"x":-0.393,"y":0.785,"v":0.45},{"x":-0.131,"y":0.785,"v":0.47},{"x":0.131,"y":0.785,"v":0.48},{"x":0.393,"y":0.785,"v":0.46},{"x":0.654,"y":0.785,"v":0.42},{"x":0.916,"y":0.785,"v":0.36},{"x":1.178,"y":0.785,"v":0.28},{"x":1.44,"y":0.785,"v":0.18},{"x":1.702,"y":0.785,"v":0.05},{"x":1.963,"y":0.785,"v":-0.07},{"x":2.225,"y":0.785,"v":-0.18},{"x":2.487,"y":0.785,"v":-0.29},{"x":2.749,"y":0.785,"v":-0.4},{"x":3.011,"y":0.785,"v":-0.51},
{"x":-3.011,"y":1.309,"v":-0.57},{"x":-2.749,"y":1.309,"v":-0.46},{"x":-2.487,"y":1.309,"v":-0.35},{"x":-2.225,"y":1.309,"v":-0.24},{"x":-1.963,"y":1.309,"v":-0.13},{"x":-1.702,"y":1.309,"v":-0.02},{"x":-1.44,"y":1.309,"v":0.12},{"x":-1.178,"y":1.309,"v":0.24},{"x":-0.916,"y":1.309,"v":0.33},{"x":-0.654,"y":1.309,"v":0.41},{"x":-0.393,"y":1.309,"v":0.46},{"x":-0.131,"y":1.309,"v":0.49},{"x":0.131,"y":1.309,"v":0.49},{"x":0.393,"y":1.309,"v":0.48},{"x":0.654,"y":1.309,"v":0.44},{"x":0.916,"y":1.309,"v":0.38},{"x":1.178,"y":1.309,"v":0.3},{"x":1.44,"y":1.309,"v":0.2},{"x":1.702,"y":1.309,"v":0.07},{"x":1.963,"y":1.309,"v":-0.05},{"x":2.225,"y":1.309,"v":-0.16},{"x":2.487,"y":1.309,"v":-0.27},{"x":2.749,"y":1.309,"v":-0.38},{"x":3.011,"y":1.309,"v":-0.49},
{"x":-3.011,"y":1.833,"v":-0.58},{"x":-2.749,"y":1.833,"v":-0.47},{"x":-2.487,"y":1.833,"v":-0.36},{"x":-2.225,"y":1.833,"v":-0.25},{"x":-1.963,"y":1.833,"v":-0.14},{"x":-1.702,"y":1.833,"v":-0.03},{"x":-1.44,"y":1.833,"v":0.11},{"x":-1.178,"y":1.833,"v":0.23},{"x":-0.916,"y":1.833,"v":0.33},{"x":-0.654,"y":1.833,"v":0.41},{"x":-0.393,"y":1.833,"v":0.47},{"x":-0.131,"y":1.833,"v":0.5},{"x":0.131,"y":1.833,"v":0.51},{"x":0.393,"y":1.833,"v":0.5},{"x":0.654,"y":1.833,"v":0.47},{"x":0.916,"y":1.833,"v":0.41},{"x":1.178,"y":1.833,"v":0.33},{"x":1.44,"y":1.833,"v":0.22},{"x":1.702,"y":1.833,"v":0.09},{"x":1.963,"y":1.833,"v":-0.04},{"x":2.225,"y":1.833,"v":-0.15},{"x":2.487,"y":1.833,"v":-0.26},{"x":2.749,"y":1.833,"v":-0.37},{"x":3.011,"y":1.833,"v":-0.48},
{"x":-3.011,"y":2.356,"v":-0.59},{"x":-2.749,"y":2.356,"v":-0.48},{"x":-2.487,"y":2.356,"v":-0.37},{"x":-2.225,"y":2.356,"v":-0.26},{"x":-1.963,"y":2.356,"v":-0.15},{"x":-1.702,"y":2.356,"v":-0.04},{"x":-1.44,"y":2.356,"v":0.09},{"x":-1.178,"y":2.356,"v":0.23},{"x":-0.916,"y":2.356,"v":0.34},{"x":-0.654,"y":2.356,"v":0.43},{"x":-0.393,"y":2.356,"v":0.49},{"x":-0.131,"y":2.356,"v":0.53},{"x":0.131,"y":2.356,"v":0.54},{"x":0.393,"y":2.356,"v":0.53},{"x":0.654,"y":2.356,"v":0.5},{"x":0.916,"y":2.356,"v":0.44},{"x":1.178,"y":2.356,"v":0.36},{"x":1.44,"y":2.356,"v":0.25},{"x":1.702,"y":2.356,"v":0.12},{"x":1.963,"y":2.356,"v":-0.03},{"x":2.225,"y":2.356,"v":-0.14},{"x":2.487,"y":2.356,"v":-0.25},{"x":2.749,"y":2.356,"v":-0.35},{"x":3.011,"y":2.356,"v":-0.47},
{"x":-3.011,"y":2.88,"v":-0.61},{"x":-2.749,"y":2.88,"v":-0.5},{"x":-2.487,"y":2.88,"v":-0.39},{"x":-2.225,"y":2.88,"v":-0.28},{"x":-1.963,"y":2.88,"v":-0.17},{"x":-1.702,"y":2.88,"v":-0.06},{"x":-1.44,"y":2.88,"v":0.08},{"x":-1.178,"y":2.88,"v":0.23},{"x":-0.916,"y":2.88,"v":0.35},{"x":-0.654,"y":2.88,"v":0.45},{"x":-0.393,"y":2.88,"v":0.52},{"x":-0.131,"y":2.88,"v":0.56},{"x":0.131,"y":2.88,"v":0.58},{"x":0.393,"y":2.88,"v":0.57},{"x":0.654,"y":2.88,"v":0.54},{"x":0.916,"y":2.88,"v":0.48},{"x":1.178,"y":2.88,"v":0.39},{"x":1.44,"y":2.88,"v":0.28},{"x":1.702,"y":2.88,"v":0.15},{"x":1.963,"y":2.88,"v":-0.01},{"x":2.225,"y":2.88,"v":-0.12},{"x":2.487,"y":2.88,"v":-0.23},{"x":2.749,"y":2.88,"v":-0.34},{"x":3.011,"y":2.88,"v":-0.45}
],
"red":[{"a":1.667,"l":1},{"a":2.41,"l":1.855},{"a":3.2,"l":2.74},{"a":3.23,"l":2.8},{"a":3.63,"l":3.16},{"a":3.66,"l":3.24},{"a":4.11,"l":3.67},{"a":4.14,"l":3.75},{"a":4.76,"l":4.38},{"a":4.79,"l":4.47},{"a":5,"l":4.65}],
"star":[{"a":2,"l":2.2}],
"pot":[
{"x":-3.1416,"E":2.8},{"x":-2.9452,"E":2.8},{"x":-2.7489,"E":2.7},{"x":-2.5525,"E":2.5},{"x":-2.3562,"E":2},{"x":-2.1598,"E":1.2},{"x":-1.9635,"E":0.5},{"x":-1.7671,"E":0.1},{"x":-1.5708,"E":0},{"x":-1.3744,"E":1.2},{"x":-1.1781,"E":4.8},{"x":-0.9817,"E":10.5},{"x":-0.7854,"E":18.8},{"x":-0.589,"E":26},{"x":-0.3927,"E":30.2},{"x":-0.1963,"E":32.2},{"x":0,"E":32.7},{"x":0.1963,"E":32.2},{"x":0.3927,"E":30.2},{"x":0.589,"E":26},{"x":0.7854,"E":18.8},{"x":0.9817,"E":10.5},{"x":1.1781,"E":4.8},{"x":1.3744,"E":1.2},{"x":1.5708,"E":0},{"x":1.7671,"E":0.1},{"x":1.9635,"E":0.5},{"x":2.1598,"E":1.2},{"x":2.3562,"E":2},{"x":2.5525,"E":2.5},{"x":2.7489,"E":2.7},{"x":2.9452,"E":2.8},{"x":3.1416,"E":2.8}
],
"wf":[
{"x":-3.1416,"E":0,"s":"|0⟩"},{"x":-2.9452,"E":0.3,"s":"|0⟩"},{"x":-2.7489,"E":1,"s":"|0⟩"},{"x":-2.5525,"E":2.5,"s":"|0⟩"},{"x":-2.3562,"E":4.5,"s":"|0⟩"},{"x":-2.1598,"E":7,"s":"|0⟩"},{"x":-1.9635,"E":9.3,"s":"|0⟩"},{"x":-1.7671,"E":10.7,"s":"|0⟩"},{"x":-1.5708,"E":11.2,"s":"|0⟩"},{"x":-1.3744,"E":9.8,"s":"|0⟩"},{"x":-1.1781,"E":7.4,"s":"|0⟩"},{"x":-0.9817,"E":4.4,"s":"|0⟩"},{"x":-0.7854,"E":2.1,"s":"|0⟩"},{"x":-0.589,"E":0.7,"s":"|0⟩"},{"x":-0.3927,"E":0.2,"s":"|0⟩"},{"x":-0.1963,"E":0,"s":"|0⟩"},{"x":0,"E":0,"s":"|0⟩"},{"x":0.1963,"E":0,"s":"|0⟩"},{"x":0.3927,"E":0.2,"s":"|0⟩"},{"x":0.589,"E":0.7,"s":"|0⟩"},{"x":0.7854,"E":2.1,"s":"|0⟩"},{"x":0.9817,"E":4.4,"s":"|0⟩"},{"x":1.1781,"E":7.4,"s":"|0⟩"},{"x":1.3744,"E":9.8,"s":"|0⟩"},{"x":1.5708,"E":11.2,"s":"|0⟩"},{"x":1.7671,"E":10.7,"s":"|0⟩"},{"x":1.9635,"E":9.3,"s":"|0⟩"},{"x":2.1598,"E":7,"s":"|0⟩"},{"x":2.3562,"E":4.5,"s":"|0⟩"},{"x":2.5525,"E":2.5,"s":"|0⟩"},{"x":2.7489,"E":1,"s":"|0⟩"},{"x":2.9452,"E":0.3,"s":"|0⟩"},{"x":3.1416,"E":0,"s":"|0⟩"},
{"x":-3.1416,"E":8.9,"s":"|1⟩"},{"x":-2.9452,"E":8.8,"s":"|1⟩"},{"x":-2.7489,"E":8.5,"s":"|1⟩"},{"x":-2.5525,"E":8,"s":"|1⟩"},{"x":-2.3562,"E":7,"s":"|1⟩"},{"x":-2.1598,"E":5.6,"s":"|1⟩"},{"x":-1.9635,"E":3.8,"s":"|1⟩"},{"x":-1.7671,"E":1.7,"s":"|1⟩"},{"x":-1.5708,"E":-0.4,"s":"|1⟩"},{"x":-1.3744,"E":-1.8,"s":"|1⟩"},{"x":-1.1781,"E":-1.6,"s":"|1⟩"},{"x":-0.9817,"E":-1.1,"s":"|1⟩"},{"x":-0.7854,"E":-0.4,"s":"|1⟩"},{"x":-0.589,"E":-0.1,"s":"|1⟩"},{"x":-0.3927,"E":0,"s":"|1⟩"},{"x":-0.1963,"E":0,"s":"|1⟩"},{"x":0,"E":0,"s":"|1⟩"},{"x":0.1963,"E":0,"s":"|1⟩"},{"x":0.3927,"E":0,"s":"|1⟩"},{"x":0.589,"E":-0.1,"s":"|1⟩"},{"x":0.7854,"E":-0.4,"s":"|1⟩"},{"x":0.9817,"E":-1.1,"s":"|1⟩"},{"x":1.1781,"E":-1.6,"s":"|1⟩"},{"x":1.3744,"E":-1.8,"s":"|1⟩"},{"x":1.5708,"E":-0.4,"s":"|1⟩"},{"x":1.7671,"E":1.7,"s":"|1⟩"},{"x":1.9635,"E":3.8,"s":"|1⟩"},{"x":2.1598,"E":5.6,"s":"|1⟩"},{"x":2.3562,"E":7,"s":"|1⟩"},{"x":2.5525,"E":8,"s":"|1⟩"},{"x":2.7489,"E":8.5,"s":"|1⟩"},{"x":2.9452,"E":8.8,"s":"|1⟩"},{"x":3.1416,"E":8.9,"s":"|1⟩"}
]
},
"hconcat":[
{
"vconcat":[
{"width":235,"height":27,"view":{"stroke":null},"data":{"values":[]},"mark":"rect","encoding":{}},
{"width":235,"height":12,"data":{"name":"cbar"},"mark":{"type":"rect","strokeWidth":0.5},
"encoding":{
"x":{"field":"c","type":"quantitative","bin":{"extent":[0,5],"step":0.1,"nice":false},"scale":{"domain":[0,5],"nice":false,"zero":false},"axis":{"orient":"top","values":[0,1,2,3,4,5],"format":"d","title":"ω₀₁/2π  (GHz)","titlePadding":2}},
"fill":{"field":"c","type":"quantitative","scale":{"scheme":"viridis","domain":[0,5]},"legend":null},
"stroke":{"field":"c","type":"quantitative","scale":{"scheme":"viridis","domain":[0,5]},"legend":null}
}},
{
"width":235,"height":212,
"layer":[
{"data":{"name":"omega"},"mark":{"type":"rect","strokeWidth":0.6,"clip":true},
"encoding":{
"x":{"field":"a","type":"quantitative","bin":{"extent":[1,5],"step":0.16,"nice":false},"scale":{"domain":[1,5],"nice":false,"zero":false},"axis":{"values":[1,2,3,4,5],"format":"d","title":"EJa/EJr","titleFontStyle":"italic","titlePadding":6}},
"y":{"field":"l","type":"quantitative","bin":{"extent":[1,5],"step":0.16,"nice":false},"scale":{"domain":[1,5],"nice":false,"zero":false},"axis":{"values":[1,2,3,4,5],"format":"d","title":"EJl/EJr","titleFontStyle":"italic","titlePadding":11}},
"fill":{"field":"w","type":"quantitative","scale":{"scheme":"viridis","domain":[0,5]},"legend":null},
"stroke":{"field":"w","type":"quantitative","scale":{"scheme":"viridis","domain":[0,5]},"legend":null}
}},
{"data":{"name":"red"},"mark":{"type":"line","color":"#e3262b","strokeDash":[4,3],"strokeWidth":1.6},
"encoding":{"x":{"field":"a","type":"quantitative","title":"EJa/EJr"},"y":{"field":"l","type":"quantitative","title":"EJl/EJr"}}},
{"data":{"name":"star"},"mark":{"type":"point","shape":"M0,-1L0.951,-0.309L0.588,0.809L-0.588,0.809L-0.951,-0.309Z","filled":true,"color":"#ffa500","size":80,"opacity":1},
"encoding":{"x":{"field":"a","type":"quantitative","title":"EJa/EJr"},"y":{"field":"l","type":"quantitative","title":"EJl/EJr"}}},
{"data":{"values":[{"t":"(a)"}]},"mark":{"type":"text","align":"left","baseline":"top","fontSize":16,"fontWeight":"bold","color":"#111"},
"encoding":{"x":{"datum":1.05},"y":{"datum":4.88},"text":{"field":"t"}}}
]
}
],
"spacing":6,
"bounds":"flush",
"resolve":{"scale":{"fill":"independent","stroke":"independent","color":"independent"},"legend":{"fill":"independent","stroke":"independent","color":"independent"}}
},
{
"vconcat":[
{
"width":233,"height":133,
"layer":[
{"data":{"name":"phi"},"mark":{"type":"rect","strokeWidth":0.6,"clip":true},
"encoding":{
"x":{"field":"x","type":"quantitative","bin":{"extent":[-3.141592653589793,3.141592653589793],"step":0.2617993877991494,"nice":false},"scale":{"domain":[-3.141592653589793,3.141592653589793],"nice":false,"zero":false},"axis":null},
"y":{"field":"y","type":"quantitative","bin":{"extent":[-3.141592653589793,3.141592653589793],"step":0.5235987755982988,"nice":false},"scale":{"domain":[-3.141592653589793,3.141592653589793],"nice":false,"zero":false},"axis":{"values":[-3.141592653589793,-2.0943951023931953,-1.0471975511965976,0,1.0471975511965976,2.0943951023931953,3.141592653589793],"labelExpr":"['−π','−2π/3','−π/3','0','π/3','2π/3','π'][round(datum.value*3/PI)+3]","title":"y","titlePadding":2}},
"fill":{"field":"v","type":"quantitative","scale":{"scheme":"redblue","domain":[-1,1]},"legend":null},
"stroke":{"field":"v","type":"quantitative","scale":{"scheme":"redblue","domain":[-1,1]},"legend":null}
}},
{"data":{"values":[{"y":0}]},"mark":{"type":"rule","color":"black","strokeDash":[5,3],"strokeWidth":1.5},
"encoding":{"y":{"field":"y","type":"quantitative","title":"y"}}},
{"data":{"values":[{"t":"(b)"}]},"mark":{"type":"text","align":"left","baseline":"top","fontSize":16,"fontWeight":"bold","color":"#111"},
"encoding":{"x":{"datum":-3.0,"axis":null},"y":{"datum":2.82},"text":{"field":"t"}}}
]
},
{
"width":233,"height":133,
"layer":[
{"data":{"name":"pot"},"mark":{"type":"line","color":"black","strokeWidth":2,"interpolate":"monotone"},
"encoding":{
"x":{"field":"x","type":"quantitative","scale":{"domain":[-3.141592653589793,3.141592653589793],"nice":false,"zero":false},"axis":{"values":[-3.141592653589793,-1.5707963267948966,0,1.5707963267948966,3.141592653589793],"labelExpr":"['−π','−π/2','0','π/2','π'][round(datum.value*2/PI)+2]","title":"x","titlePadding":4}},
"y":{"field":"E","type":"quantitative","scale":{"domain":[-10,55],"nice":false,"zero":false},"axis":{"values":[0,20,40],"title":"E/h (GHz)","titlePadding":12}}
}},
{"data":{"name":"wf"},"mark":{"type":"line","strokeWidth":2,"interpolate":"monotone"},
"encoding":{
"x":{"field":"x","type":"quantitative","title":"x"},
"y":{"field":"E","type":"quantitative","title":"E/h (GHz)"},
"color":{"field":"s","type":"nominal","scale":{"domain":["|0⟩","|1⟩"],"range":["#1f77b4","#ff7f0e"]},"legend":{"orient":"top-right","offset":8,"title":null,"symbolType":"stroke","symbolSize":1000,"symbolStrokeWidth":2,"labelFontSize":16,"labelOffset":10,"padding":6,"rowPadding":2,"strokeColor":"#cccccc","fillColor":"white","cornerRadius":4}}
}},
{"data":{"values":[{"t":"(c)"}]},"mark":{"type":"text","align":"left","baseline":"top","fontSize":16,"fontWeight":"bold","color":"#111"},
"encoding":{"x":{"datum":-3.0},"y":{"datum":51.5},"text":{"field":"t"}}}
]
}
],
"spacing":6,
"bounds":"flush",
"resolve":{"scale":{"fill":"independent","stroke":"independent","color":"independent"},"legend":{"fill":"independent","stroke":"independent","color":"independent"}}
}
],
"spacing":-4,
"resolve":{"scale":{"fill":"independent","stroke":"independent","color":"independent"},"legend":{"fill":"independent","stroke":"independent","color":"independent"}}
}
